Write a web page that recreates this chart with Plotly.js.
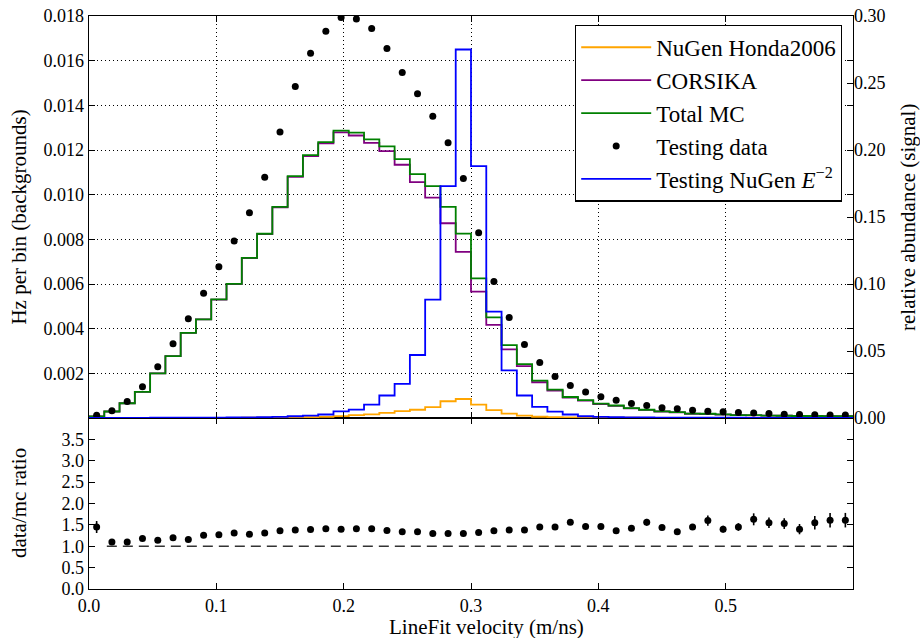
<!DOCTYPE html>
<html>
<head>
<meta charset="utf-8">
<script src="https://cdn.plot.ly/plotly-3.0.1.min.js"></script>
<style>html,body{margin:0;padding:0;background:#fff;}#chart{width:920px;height:638px;}</style>
</head>
<body>
<div id="chart"></div>
<script>
// ---- data (50 bins of width 0.012 in LineFit velocity, m/ns) ----
const binWidth = 0.012;
const nBins = 50;

// NuGen Honda2006 (Hz per bin, left axis)
const nugenHonda = [
  0.000000, 0.000000, 0.000000, 0.000000, 0.000001, 0.000002, 0.000003, 0.000005, 0.000008, 0.000010,
  0.000012, 0.000015, 0.000020, 0.000030, 0.000040, 0.000050, 0.000080, 0.000130, 0.000160, 0.000230,
  0.000310, 0.000370, 0.000490, 0.000750, 0.000850, 0.000600, 0.000350, 0.000200, 0.000110, 0.000055,
  0.000040, 0.000030, 0.000020, 0.000018, 0.000015, 0.000012, 0.000010, 0.000008, 0.000007, 0.000006,
  0.000005, 0.000004, 0.000004, 0.000003, 0.000003, 0.000002, 0.000002, 0.000002, 0.000001, 0.000001
];

// CORSIKA (Hz per bin, left axis)
const corsika = [
  0.00007, 0.00029, 0.00066, 0.00117, 0.00200, 0.00277, 0.00381, 0.00442, 0.00530, 0.00600,
  0.00716, 0.00823, 0.00943, 0.01080, 0.01173, 0.01230, 0.01279, 0.01265, 0.01232, 0.01195,
  0.01134, 0.01056, 0.00987, 0.00872, 0.00744, 0.00566, 0.00417, 0.00307, 0.00232, 0.00160,
  0.00123, 0.00091, 0.00078, 0.00062, 0.00054, 0.00043, 0.00036, 0.00029, 0.00025, 0.00019,
  0.00018, 0.00015, 0.00013, 0.00012, 0.00011, 0.00010, 0.00009, 0.00009, 0.00008, 0.00008
];

// Total MC (Hz per bin, left axis)
const totalMC = [
  0.00007, 0.00029, 0.00066, 0.00117, 0.00200, 0.00277, 0.00381, 0.00442, 0.00531, 0.00601,
  0.00717, 0.00825, 0.00945, 0.01083, 0.01177, 0.01235, 0.01287, 0.01278, 0.01248, 0.01216,
  0.01159, 0.01092, 0.01038, 0.00945, 0.00826, 0.00625, 0.00451, 0.00326, 0.00241, 0.00167,
  0.00127, 0.00094, 0.00080, 0.00064, 0.00056, 0.00044, 0.00037, 0.00030, 0.00026, 0.00020,
  0.00019, 0.00016, 0.00013, 0.00013, 0.00011, 0.00010, 0.00009, 0.00009, 0.00008, 0.00008
];

// Testing data (Hz per bin, left axis)
const testingData = [
  0.000125, 0.00032, 0.00074, 0.00140, 0.00230, 0.00332, 0.00444, 0.00559, 0.00677, 0.00793,
  0.00919, 0.01078, 0.01281, 0.01484, 0.01633, 0.01732, 0.01793, 0.01787, 0.01744, 0.01654,
  0.01547, 0.01452, 0.01351, 0.01232, 0.01072, 0.00829, 0.00611, 0.00450, 0.00329, 0.00248,
  0.00186, 0.00146, 0.00116, 0.00095, 0.00080, 0.00065, 0.00056, 0.00046, 0.00041, 0.00035,
  0.00030, 0.00028, 0.00025, 0.00022, 0.00020, 0.00017, 0.00016, 0.00014, 0.00013, 0.00013
];

// Testing NuGen E^-2 (relative abundance, right axis)
const testingNuGenE2 = [
  0.0001, 0.0001, 0.0001, 0.0001, 0.0002, 0.0002, 0.0002, 0.0003, 0.0003, 0.0004,
  0.0005, 0.0006, 0.0008, 0.0013, 0.0018, 0.0026, 0.0050, 0.0063, 0.0100, 0.0168,
  0.0255, 0.0470, 0.0883, 0.1730, 0.2750, 0.1880, 0.0794, 0.0356, 0.0168, 0.0083,
  0.0048, 0.0026, 0.0013, 0.0009, 0.0006, 0.0005, 0.0004, 0.0003, 0.0003, 0.0002,
  0.0002, 0.0002, 0.0002, 0.0001, 0.0001, 0.0001, 0.0001, 0.0001, 0.0001, 0.0001
];

// data / MC ratio and its uncertainty
const ratio = [
  1.45, 1.10, 1.10, 1.18, 1.14, 1.20, 1.16, 1.26, 1.27, 1.31,
  1.28, 1.31, 1.36, 1.38, 1.39, 1.41, 1.40, 1.41, 1.41, 1.37,
  1.34, 1.34, 1.30, 1.30, 1.30, 1.32, 1.36, 1.38, 1.38, 1.45,
  1.45, 1.56, 1.46, 1.46, 1.36, 1.42, 1.56, 1.44, 1.34, 1.45,
  1.60, 1.40, 1.45, 1.63, 1.55, 1.53, 1.40, 1.55, 1.61, 1.61
];
const ratioErr = [
  0.14, 0.02, 0.02, 0.02, 0.02, 0.02, 0.02, 0.02, 0.02, 0.02,
  0.02, 0.02, 0.02, 0.02, 0.02, 0.02, 0.02, 0.02, 0.02, 0.02,
  0.02, 0.02, 0.02, 0.02, 0.02, 0.02, 0.02, 0.02, 0.03, 0.03,
  0.03, 0.04, 0.04, 0.04, 0.05, 0.05, 0.08, 0.055, 0.06, 0.07,
  0.12, 0.08, 0.09, 0.14, 0.125, 0.125, 0.12, 0.16, 0.17, 0.17
];

// reference line in the ratio panel
const unityLineX = [0.014, 0.6];
const unityLineY = [1, 1];

// tick labels
const xTickVals = [0.0, 0.1, 0.2, 0.3, 0.4, 0.5];
const xTickText = ["0.0", "0.1", "0.2", "0.3", "0.4", "0.5"];
const yLeftTickVals = [0.002, 0.004, 0.006, 0.008, 0.010, 0.012, 0.014, 0.016, 0.018];
const yLeftTickText = ["0.002", "0.004", "0.006", "0.008", "0.010", "0.012", "0.014", "0.016", "0.018"];
const yRightTickVals = [0.00, 0.05, 0.10, 0.15, 0.20, 0.25, 0.30];
const yRightTickText = ["0.00", "0.05", "0.10", "0.15", "0.20", "0.25", "0.30"];
const yRatioTickVals = [0.0, 0.5, 1.0, 1.5, 2.0, 2.5, 3.0, 3.5];
const yRatioTickText = ["0.0", "0.5", "1.0", "1.5", "2.0", "2.5", "3.0", "3.5"];

// ---- derived bin geometry ----
const edges = [];
for (let i = 0; i <= nBins; i++) edges.push(+(i * binWidth).toFixed(4));
const centers = [];
for (let i = 0; i < nBins; i++) centers.push(+((i + 0.5) * binWidth).toFixed(4));
const stepY = arr => arr.concat([arr[arr.length - 1]]);

const FONT = "Liberation Serif, Times New Roman, serif";
const TITLE_SIZE = 21;

const traces = [
  {x: edges, y: stepY(nugenHonda), xaxis: 'x2', yaxis: 'y2', mode: 'lines', line: {shape: 'hv', color: '#FFA500', width: 1.8}, name: 'NuGen Honda2006'},
  {x: edges, y: stepY(corsika), xaxis: 'x2', yaxis: 'y2', mode: 'lines', line: {shape: 'hv', color: '#800080', width: 1.8}, name: 'CORSIKA'},
  {x: edges, y: stepY(totalMC), xaxis: 'x2', yaxis: 'y2', mode: 'lines', line: {shape: 'hv', color: '#008000', width: 1.8}, name: 'Total MC'},
  {x: centers, y: testingData, xaxis: 'x2', yaxis: 'y2', mode: 'markers', marker: {color: '#000', size: 7}, name: 'Testing data'},
  {x: edges, y: stepY(testingNuGenE2), xaxis: 'x2', yaxis: 'y3', mode: 'lines', line: {shape: 'hv', color: '#0000FF', width: 1.8}, name: 'Testing NuGen <i>E</i><sup>\u22122</sup>'},
  {x: unityLineX, y: unityLineY, xaxis: 'x', yaxis: 'y', mode: 'lines', line: {color: '#333', width: 1.3, dash: '10px,6px'}, showlegend: false, hoverinfo: 'skip'},
  {x: centers, y: ratio, xaxis: 'x', yaxis: 'y', mode: 'markers', marker: {color: '#000', size: 7},
   error_y: {type: 'data', array: ratioErr, visible: true, color: '#000', thickness: 1.6, width: 0}, showlegend: false}
];

const H = 638, W = 920;
const mL = 88.5, mR = W - 853, mT = 16, mB = H - 589;
const plotH = H - mT - mB;
const split = (589 - 418) / plotH;

const axisCommon = {
  showline: true, linecolor: '#000', linewidth: 1.3, mirror: 'ticks',
  ticks: 'inside', ticklen: 6, tickwidth: 1, tickcolor: '#000',
  zeroline: false, tickfont: {family: FONT, size: 18, color: '#000'}
};

const layout = {
  width: W, height: H,
  margin: {l: mL, r: mR, t: mT, b: mB},
  paper_bgcolor: '#fff', plot_bgcolor: '#fff',
  font: {family: FONT, color: '#000'},
  showlegend: true,
  legend: {
    x: 0.9856, y: 0.985, xanchor: 'right', yanchor: 'top',
    bgcolor: '#fff', bordercolor: '#000', borderwidth: 1.2,
    font: {family: FONT, size: 23, color: '#000'},
    itemwidth: 70, tracegroupgap: 0
  },
  xaxis: Object.assign({}, axisCommon, {
    domain: [0, 1], range: [0, 0.6], anchor: 'y',
    tickmode: 'array', tickvals: xTickVals, ticktext: xTickText,
    showgrid: false
  }),
  xaxis2: Object.assign({}, axisCommon, {
    domain: [0, 1], range: [0, 0.6], anchor: 'y2', matches: 'x',
    tickmode: 'array', tickvals: xTickVals, showticklabels: false,
    showgrid: true, gridcolor: '#000', gridwidth: 1, griddash: '1px,3px'
  }),
  yaxis: Object.assign({}, axisCommon, {
    domain: [0, split], range: [0, 4.0], anchor: 'x',
    tickmode: 'array', tickvals: yRatioTickVals, ticktext: yRatioTickText,
    showgrid: false
  }),
  yaxis2: Object.assign({}, axisCommon, {
    domain: [split, 1], range: [0, 0.018], anchor: 'x2',
    tickmode: 'array', tickvals: yLeftTickVals, ticktext: yLeftTickText,
    showgrid: true, gridcolor: '#000', gridwidth: 1, griddash: '1px,3px'
  }),
  yaxis3: Object.assign({}, axisCommon, {
    range: [0, 0.30], overlaying: 'y2', side: 'right', anchor: 'x2',
    mirror: false, showline: false,
    tickmode: 'array', tickvals: yRightTickVals, ticktext: yRightTickText,
    showgrid: false
  }),
  annotations: [
    {text: 'LineFit velocity (m/ns)', xref: 'paper', yref: 'paper', x: (486 - mL) / (W - mL - mR), y: -(627 - 589) / plotH,
     showarrow: false, font: {family: FONT, size: TITLE_SIZE, color: '#000'}, xanchor: 'center', yanchor: 'middle'},
    {text: 'Hz per bin (backgrounds)', xref: 'paper', yref: 'paper', x: (18 - mL) / (W - mL - mR), y: 1 - ((16 + 418) / 2 - mT) / plotH,
     textangle: -90, showarrow: false, font: {family: FONT, size: TITLE_SIZE, color: '#000'}, xanchor: 'center', yanchor: 'middle'},
    {text: 'data/mc ratio', xref: 'paper', yref: 'paper', x: (18 - mL) / (W - mL - mR), y: 1 - ((418 + 589) / 2 - mT) / plotH,
     textangle: -90, showarrow: false, font: {family: FONT, size: TITLE_SIZE, color: '#000'}, xanchor: 'center', yanchor: 'middle'},
    {text: 'relative abundance (signal)', xref: 'paper', yref: 'paper', x: (908 - mL) / (W - mL - mR), y: 1 - ((16 + 418) / 2 - mT) / plotH,
     textangle: -90, showarrow: false, font: {family: FONT, size: TITLE_SIZE, color: '#000'}, xanchor: 'center', yanchor: 'middle'}
  ]
};

Plotly.newPlot('chart', traces, layout, {staticPlot: true, displayModeBar: false});
</script>
</body>
</html>
